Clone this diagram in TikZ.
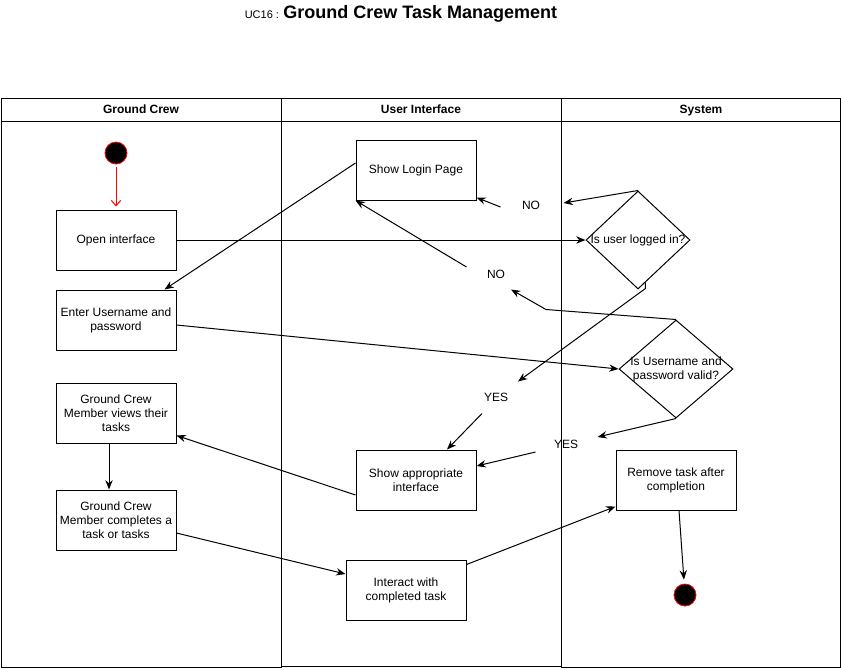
\documentclass[tikz,border=0pt]{standalone}
\usepackage{fontspec}
\setmainfont{Liberation Sans}
\usepackage{tikz}
\usetikzlibrary{arrows.meta,shapes.geometric,calc}

\begin{document}
\begin{tikzpicture}[x=0.75pt,y=-0.75pt,line width=0.75pt,
    font=\fontsize{9}{10.5}\selectfont,
    box/.style={draw, minimum width=90pt, minimum height=45pt, inner sep=0pt, align=center},
    decision/.style={draw, diamond, inner sep=0pt, minimum width=78pt, minimum height=73.5pt},
    lbl/.style={minimum width=45pt, minimum height=22.5pt, inner sep=0pt},
    dot/.style={draw=red, fill=black, circle, minimum size=16.5pt, inner sep=0pt, line width=0.6pt},
    head/.style={font=\bfseries\fontsize{9}{10.5}\selectfont, text height=6.6pt, text depth=2pt},
    arr/.style={-{Stealth[length=7pt,width=5.5pt]}}]
    \useasboundingbox (0,0) rectangle (841,669);
    % title
    \node[anchor=base] at(401,18)(title){{\fontsize{8.25}{10}\selectfont UC16 :} {\bfseries\fontsize{13.5}{16}\selectfont Ground Crew Task Management}};
    % swimlanes
    \draw (1,98) rectangle (281,667);
    \draw (1,121) -- (281,121);
    \draw (281,98) rectangle (561,666);
    \draw (281,121) -- (561,121);
    \draw (561,98) rectangle (840,667);
    \draw (561,121) -- (840,121);
    \node[head] at(141,110)(crew){Ground Crew};
    \node[head] at(421,110)(ui){User Interface};
    \node[head] at(701,110)(sys){System};
    % ground crew
    \node[dot] at(116,153)(startc){};
    \node[box] at(116,240)(open){Open interface};
    \node[box] at(116,320)(enter){Enter Username and\\password};
    \node[box] at(116,413)(views){Ground Crew\\Member views their\\tasks};
    \node[box] at(116,520)(compl){Ground Crew\\Member completes a\\task or tasks};
    % user interface
    \node[box] at(416,170)(login){Show Login Page};
    \node[box] at(416,480)(appr){Show appropriate\\interface};
    \node[box] at(406,590)(inter){Interact with\\completed task};
    \node[lbl] at(531,205)(no1){NO};
    \node[lbl] at(496,274)(no2){NO};
    \node[lbl] at(496,397)(yes1){YES};
    \node[lbl] at(566,444)(yes2){YES};
    % system
    \node[decision, label={center:Is user logged in?}] at(638,240)(d1){};
    \node[decision, minimum width=85.5pt, label={[align=center]center:Is Username and\\password valid?}] at(676,369)(d2){};
    \node[box] at(676,480)(remove){Remove task after\\completion};
    \node[dot] at(685,595)(endc){};
    % flow
    \draw[red, -{Straight Barb[length=4pt,width=7pt]}, shorten <=2.25pt, shorten >=2.25pt] (startc) -- (open);
    \draw[arr] (open.east) -- (d1.west);
    \draw[arr] ($(login.west)+(0,-7)$) -- ($(enter.north east)+(-12,0)$);
    \draw[arr] ($(enter.east)+(0,5)$) -- (d2.west);
    \draw[arr] (d1.north) -- ($(no1.east)+(2,-2)$);
    \draw[arr] ($(no1.west)+(0,2)$) -- ($(login.south east)+(0,-3)$);
    \draw[arr] (d2.north) -- ++(-130,-10) -- ($(no2.south)+(15,0)$);
    \draw[arr] ($(no2.west)+(1,-7)$) -- (login.south west);
    \draw[arr] (d1.-80) -- ++(0,6) -- ($(yes1.north)+(22,0)$);
    \draw[arr] ($(yes1.south)+(-14,1)$) -- ($(appr.north)+(31,0)$);
    \draw[arr] (d2.south) -- ($(yes2.east)+(1,-7)$);
    \draw[arr] ($(yes2.west)+(0,8)$) -- ($(appr.east)+(0,-14)$);
    \draw[arr] ($(appr.west)+(0,15)$) -- ($(views.south east)+(0,-8)$);
    \draw[arr] ($(views.south)+(-7,0)$) -- ($(compl.north)+(-7,0)$);
    \draw[arr] ($(compl.east)+(0,13)$) -- ($(inter.west)+(0,-16)$);
    \draw[arr] ($(inter.north east)+(0,5)$) -- ($(remove.south west)+(0,-4)$);
    \draw[arr, shorten >=3pt] ($(remove.south)+(3,0)$) -- (endc);
\end{tikzpicture}
\end{document}
